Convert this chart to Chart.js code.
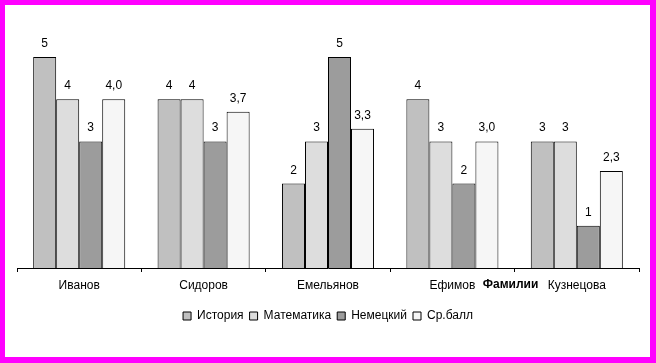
<!DOCTYPE html>
<html>
<head>
<meta charset="utf-8">
<script src="https://cdn.jsdelivr.net/npm/chart.js@4"></script>
<style>
    html, body { margin: 0; padding: 0; background: #fff; }
    #frame {
        width: 656px; height: 363px;
        box-sizing: border-box;
        border-style: solid;
        border-color: #ff00ff;
        border-width: 5px 6px 6px 5px;
        background: #fff;
    }
    #chart { display: block; }
</style>
</head>
<body>
<div id="frame"><canvas id="chart" width="645" height="352"></canvas></div>
<script>
// --- DATA ---
const students = ['Иванов', 'Сидоров', 'Емельянов', 'Ефимов', 'Кузнецова'];
const history = [5, 4, 2, 4, 3];
const maths = [4, 4, 3, 3, 3];
const german = [3, 3, 5, 2, 1];
const average = [4.0, 3.7, 3.3, 3.0, 2.3];

const seriesNames = ['История', 'Математика', 'Немецкий', 'Ср.балл'];
const axisTitle = 'Фамилии';

const FONT = 'Arial, "Liberation Sans", sans-serif';
Chart.defaults.font.family = FONT;
Chart.defaults.font.size = 12;
Chart.defaults.color = '#000';

const makeSet = (label, data, color, decimals) => ({
    label,
    data,
    backgroundColor: color,
    borderColor: '#000',
    borderWidth: 1,
    borderSkipped: 'bottom',
    decimals,
});

// --- VALUE LABELS ABOVE BARS ---
const valueLabels = {
    id: 'valueLabels',
    afterDatasetsDraw(chart) {
        const ctx = chart.ctx;
        ctx.save();
        ctx.font = '12px ' + FONT;
        ctx.fillStyle = '#000';
        ctx.textAlign = 'center';
        ctx.textBaseline = 'alphabetic';
        chart.data.datasets.forEach((ds, i) => {
            chart.getDatasetMeta(i).data.forEach((bar, j) => {
                const txt = ds.decimals ? ds.data[j].toFixed(ds.decimals).replace('.', ',') : String(ds.data[j]);
                ctx.fillText(txt, bar.x, bar.y - 10);
            });
        });
        ctx.restore();
    }
};

// --- AXIS TITLE ON THE TICK LABEL LINE ---
const axisTitlePlugin = {
    id: 'axisTitlePlugin',
    afterDraw(chart) {
        const x = chart.scales.x;
        const ctx = chart.ctx;
        const px = (x.getPixelForValue(3) + x.getPixelForValue(4)) / 2 - 4;
        ctx.save();
        ctx.font = 'bold 12px ' + FONT;
        ctx.fillStyle = '#000';
        ctx.textAlign = 'center';
        ctx.textBaseline = 'middle';
        ctx.fillText(axisTitle, px, x.top + 17);
        ctx.restore();
    }
};

new Chart(document.getElementById('chart'), {
    type: 'bar',
    data: {
        labels: students,
        datasets: [
            makeSet(seriesNames[0], history, '#c0c0c0', 0),
            makeSet(seriesNames[1], maths, '#dddddd', 0),
            makeSet(seriesNames[2], german, '#9c9c9c', 0),
            makeSet(seriesNames[3], average, '#f6f6f6', 1),
        ]
    },
    options: {
        responsive: false,
        animation: false,
        events: [],
        layout: { padding: { top: 52, left: 12, right: 11, bottom: 25 } },
        datasets: { bar: { categoryPercentage: 0.74, barPercentage: 1 } },
        scales: {
            x: {
                grid: {
                    display: true,
                    offset: true,
                    drawOnChartArea: false,
                    drawTicks: true,
                    tickLength: 4,
                    color: '#000',
                },
                border: { display: true, color: '#000', width: 1 },
                ticks: { padding: 6, color: '#000', maxRotation: 0 },
                afterFit(scale) { scale.height = 36; }
            },
            y: {
                display: false,
                min: 0,
                max: 5,
            }
        },
        plugins: {
            legend: {
                position: 'bottom',
                labels: {
                    boxWidth: 8,
                    boxHeight: 8,
                    padding: 6,
                    color: '#000',
                    font: { size: 12 },
                }
            },
            tooltip: { enabled: false },
        }
    },
    plugins: [valueLabels, axisTitlePlugin]
});
</script>
</body>
</html>
